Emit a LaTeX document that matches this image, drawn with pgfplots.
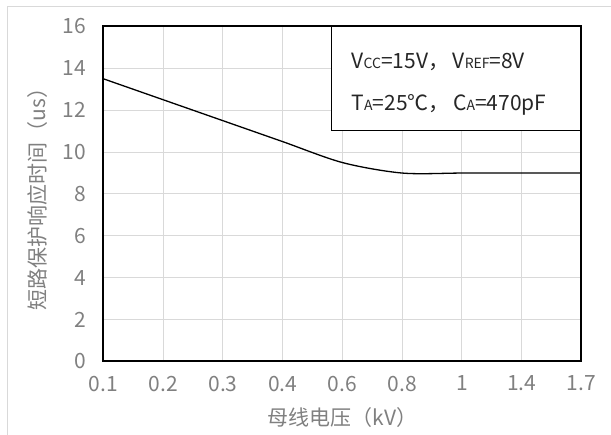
\documentclass[border=0pt]{standalone}
\usepackage{pgfplots}
\pgfplotsset{compat=1.18}
\usepackage{fontspec}
\setmainfont{Noto Sans CJK SC}
\definecolor{tickgray}{HTML}{808080}
\definecolor{gridgray}{HTML}{D9D9D9}
\newcommand{\sub}[1]{{\fontsize{14}{14}\selectfont #1}}
\begin{document}
\begin{tikzpicture}
\useasboundingbox (0pt,0pt) rectangle (611pt,435pt);
\draw[gridgray, line width=1pt] (7pt,0pt) -- (7pt,428pt) -- (611pt,428pt);
\begin{axis}[
  at={(103.5pt,73.5pt)}, anchor=south west,
  scale only axis, width=478pt, height=335pt,
  xmin=0, xmax=8, ymin=0, ymax=16,
  xtick={0,...,8},
  xticklabels={0.1,0.2,0.3,0.4,0.6,0.8,1,1.4,1.7},
  ytick={0,2,...,16},
  major tick length=0pt,
  grid=major,
  major grid style={gridgray, line width=1pt},
  axis line style={black, line width=2pt},
  /pgf/number format/assume math mode=true,
  tick label style={font=\fontsize{21}{21}\selectfont, text=tickgray},
  xticklabel style={yshift=-11pt},
  yticklabel style={xshift=-14pt},
  xlabel={母线电压（kV）},
  ylabel={短路保护响应时间（us）},
  label style={font=\fontsize{21}{21}\selectfont, text=tickgray},
  xlabel style={at={(axis description cs:0.5,-0.166)}, anchor=center},
  ylabel style={at={(axis description cs:-0.139,0.5)}, anchor=center},
  clip=false,
]
\addplot[black, line width=1.3pt, smooth, tension=0.5] coordinates {
  (0,13.5) (1,12.5) (2,11.5) (3,10.5) (4,9.5) (5,9.0) (6,9.0) (7,9.0) (8,9.0)
};
\draw[black, line width=0.8pt, fill=white] (axis cs:3.82,11.06) rectangle (axis cs:8,16);
\node[anchor=base west, font=\fontsize{21}{21}\selectfont, text=black!85, inner sep=0pt] at (axis cs:4.15,14) {V\sub{CC}=15V，\,V\sub{REF}=8V};
\node[anchor=base west, font=\fontsize{21}{21}\selectfont, text=black!85, inner sep=0pt] at (axis cs:4.15,12) {T\sub{A}=25℃，\,C\sub{A}=470pF};
\draw[black, line width=2pt] (axis cs:0,0) rectangle (axis cs:8,16);
\end{axis}
\end{tikzpicture}
\end{document}
